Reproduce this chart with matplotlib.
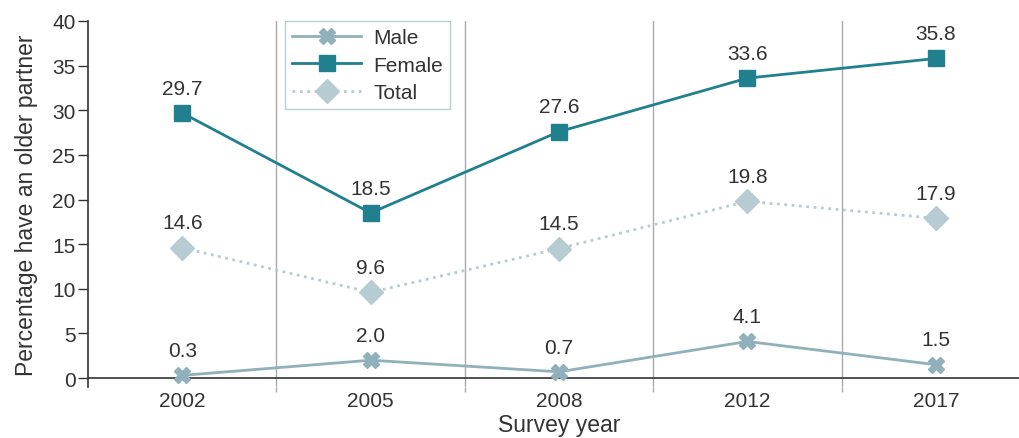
import matplotlib.pyplot as plt

years = ["2002", "2005", "2008", "2012", "2017"]
male = [0.3, 2.0, 0.7, 4.1, 1.5]
female = [29.7, 18.5, 27.6, 33.6, 35.8]
total = [14.6, 9.6, 14.5, 19.8, 17.9]

plt.rcParams['font.family'] = ['Liberation Sans', 'DejaVu Sans']

c_male = '#90b1bb'
c_female = '#21808e'
c_total = '#b7cbd2'
c_text = '#333333'

fig = plt.figure(figsize=(10.19, 4.39), dpi=100)
ax = fig.add_axes([0.0864, 0.1162, 0.9244, 0.8337])

x = list(range(len(years)))
ax.plot(x, male, color=c_male, lw=2, marker='X', ms=11, label='Male', zorder=3)
ax.plot(x, female, color=c_female, lw=2, marker='s', ms=12, label='Female', zorder=3)
ax.plot(x, total, color=c_total, lw=2, ls=':', marker='D', ms=12, label='Total', zorder=3)

for series in (male, female, total):
    for xi, v in zip(x, series):
        ax.annotate(f'{v:.1f}', (xi, v), xytext=(0, 11), textcoords='offset points',
                    ha='center', va='bottom', fontsize=15, color=c_text)

ax.set_xlim(-0.5, 4.5)
ax.set_ylim(-1, 40)
ax.set_xticks(x)
ax.set_xticklabels(years)
ax.set_xticks([0.5, 1.5, 2.5, 3.5], minor=True)
ax.set_yticks(range(0, 41, 5))
ax.tick_params(axis='x', which='major', length=0, labelsize=15, labelcolor=c_text, pad=3)
ax.tick_params(axis='x', which='minor', length=0)
ax.tick_params(axis='y', length=7, width=1, color=c_text, labelsize=15, labelcolor=c_text, pad=2)
ax.grid(axis='x', which='minor', color='#aaaaaa', lw=1)
ax.vlines([0.5, 1.5, 2.5, 3.5], -1.6, -1, color='#aaaaaa', lw=1, clip_on=False)
ax.axhline(0, color=c_text, lw=1.2, zorder=2)

for s in ('top', 'right', 'bottom'):
    ax.spines[s].set_visible(False)
ax.spines['left'].set_color(c_text)
ax.spines['left'].set_linewidth(1.2)

ax.set_ylabel('Percentage have an older partner', fontsize=16.5, color=c_text, labelpad=10)
ax.set_xlabel('Survey year', fontsize=16.5, color=c_text, labelpad=2)

leg = ax.legend(loc='upper left', bbox_to_anchor=(0.209, 1.0), borderaxespad=0, fontsize=15,
                frameon=True, fancybox=False, edgecolor='#a9c3cb', handlelength=3.3,
                borderpad=0.35, labelspacing=0.4, handletextpad=0.6)
leg.get_frame().set_linewidth(1)
for t in leg.get_texts():
    t.set_color(c_text)

fig.savefig('out.png', dpi=100)
